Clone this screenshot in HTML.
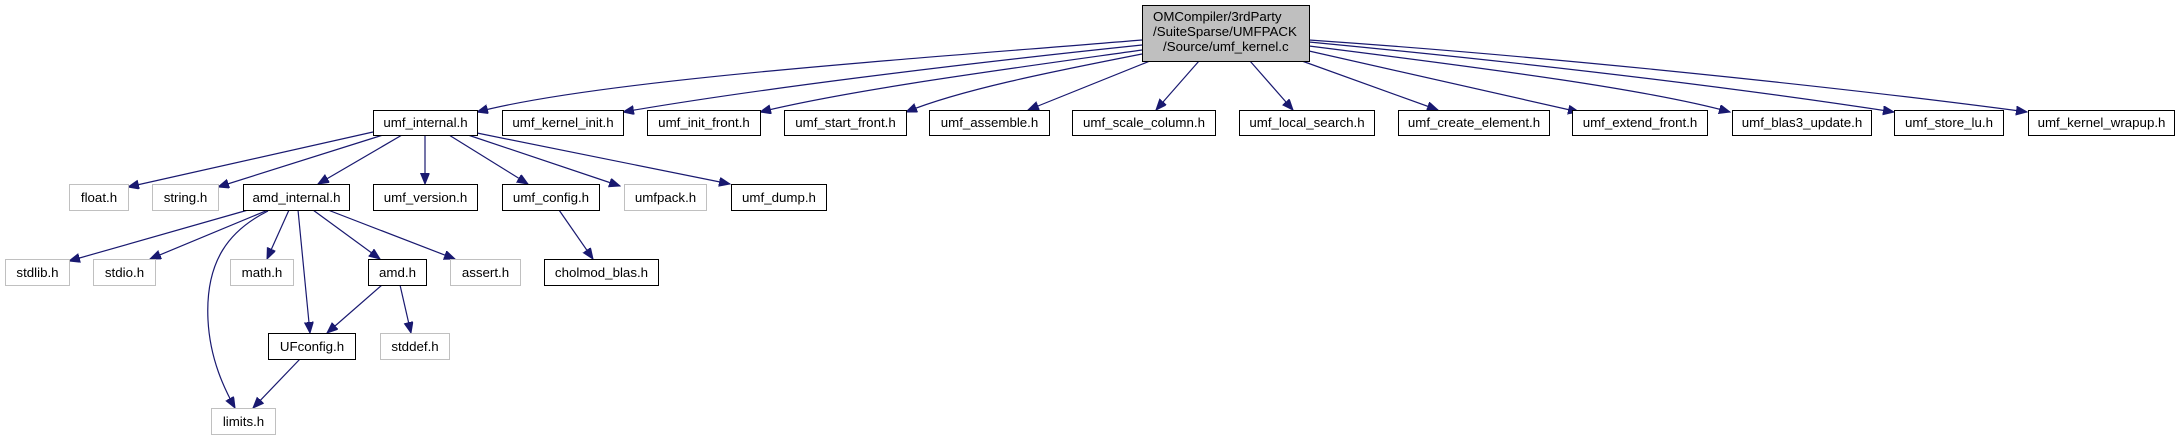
<!DOCTYPE html>
<html><head><meta charset="utf-8"><style>
html,body{margin:0;padding:0;background:#fff;}
svg{display:block;}
text{font-family:"Liberation Sans",sans-serif;font-size:13.3px;fill:#000;}
</style></head><body>
<svg width="2180" height="440" viewBox="0 0 2180 440" xmlns="http://www.w3.org/2000/svg">
<defs>
<marker id="a" markerUnits="userSpaceOnUse" markerWidth="12" markerHeight="10" refX="11" refY="4.5" orient="auto">
<path d="M0,0 L11,4.5 L0,9 z" fill="#191970" stroke="#191970"/>
</marker>
</defs>
<g fill="none" stroke="#191970" stroke-width="1.2" marker-end="url(#a)">
<!-- root edges -->
<path d="M1142,40 C900,60 600,80 477,112"/>
<path d="M1142,45 C950,65 750,90 623,112"/>
<path d="M1142,50 C1000,70 850,90 760,112"/>
<path d="M1142,54 C1050,72 960,90 906,112"/>
<path d="M1150,61 L1028,110"/>
<path d="M1199,61 L1156,110"/>
<path d="M1250,61 L1293,110"/>
<path d="M1302,61 L1438,110"/>
<path d="M1309,51 L1579,112"/>
<path d="M1309,46 C1500,70 1650,90 1730,112"/>
<path d="M1309,42 C1550,65 1750,90 1894,112"/>
<path d="M1309,40 C1600,60 1900,95 2027,112"/>
<!-- umf_internal edges -->
<path d="M373,132 L128,187"/>
<path d="M383,135 L218,187"/>
<path d="M402,135 L318,184"/>
<path d="M425,135 L425,184"/>
<path d="M449,135 L528,184"/>
<path d="M468,135 L620,186"/>
<path d="M477,133 L730,184"/>
<!-- amd_internal edges -->
<path d="M248,210 L69,261"/>
<path d="M268,210 L150,259"/>
<path d="M268,211 C230,230 205,260 208,320 C210,360 225,390 235,408"/>
<path d="M289,210 L267,259"/>
<path d="M298,210 L310,333"/>
<path d="M313,210 L380,259"/>
<path d="M328,210 L455,259"/>
<path d="M382,285 L327,333"/>
<path d="M400,285 L411,333"/>
<path d="M300,359 L253,408"/>
<path d="M559,210 L593,259"/>
</g>
<!-- root -->
<rect x="1142.5" y="5.5" width="167" height="56" fill="#bfbfbf" stroke="#000"/>
<text x="1153" y="21">OMCompiler/3rdParty</text>
<text x="1153" y="36">/SuiteSparse/UMFPACK</text>
<text x="1163" y="51">/Source/umf_kernel.c</text>
<g stroke="#000" fill="#fff">
<rect x="373.5" y="110.5" width="104" height="25"/>
<rect x="502.5" y="110.5" width="121" height="25"/>
<rect x="647.5" y="110.5" width="113" height="25"/>
<rect x="784.5" y="110.5" width="122" height="25"/>
<rect x="929.5" y="110.5" width="120" height="25"/>
<rect x="1072.5" y="110.5" width="143" height="25"/>
<rect x="1239.5" y="110.5" width="135" height="25"/>
<rect x="1398.5" y="110.5" width="151" height="25"/>
<rect x="1572.5" y="110.5" width="135" height="25"/>
<rect x="1732.5" y="110.5" width="139" height="25"/>
<rect x="1894.5" y="110.5" width="109" height="25"/>
<rect x="2028.5" y="110.5" width="146" height="25"/>
<rect x="243.5" y="184.5" width="106" height="26"/>
<rect x="373.5" y="184.5" width="104" height="26"/>
<rect x="502.5" y="184.5" width="97" height="26"/>
<rect x="731.5" y="184.5" width="95" height="26"/>
<rect x="368.5" y="259.5" width="58" height="26"/>
<rect x="544.5" y="259.5" width="114" height="26"/>
<rect x="268.5" y="333.5" width="87" height="26"/>
</g>
<g stroke="#c0c0c0" fill="#fff">
<rect x="69.5" y="184.5" width="59" height="26"/>
<rect x="152.5" y="184.5" width="66" height="26"/>
<rect x="624.5" y="184.5" width="82" height="26"/>
<rect x="5.5" y="259.5" width="64" height="26"/>
<rect x="93.5" y="259.5" width="62" height="26"/>
<rect x="230.5" y="259.5" width="63" height="26"/>
<rect x="450.5" y="259.5" width="70" height="26"/>
<rect x="380.5" y="333.5" width="69" height="26"/>
<rect x="211.5" y="408.5" width="64" height="26"/>
</g>
<g text-anchor="middle">
<text x="425.5" y="127">umf_internal.h</text>
<text x="563" y="127">umf_kernel_init.h</text>
<text x="704" y="127">umf_init_front.h</text>
<text x="845.5" y="127">umf_start_front.h</text>
<text x="989.5" y="127">umf_assemble.h</text>
<text x="1144" y="127">umf_scale_column.h</text>
<text x="1307" y="127">umf_local_search.h</text>
<text x="1474" y="127">umf_create_element.h</text>
<text x="1640" y="127">umf_extend_front.h</text>
<text x="1802" y="127">umf_blas3_update.h</text>
<text x="1949" y="127">umf_store_lu.h</text>
<text x="2101.5" y="127">umf_kernel_wrapup.h</text>
<text x="99" y="202">float.h</text>
<text x="185.5" y="202">string.h</text>
<text x="296.5" y="202">amd_internal.h</text>
<text x="425.5" y="202">umf_version.h</text>
<text x="551" y="202">umf_config.h</text>
<text x="665.5" y="202">umfpack.h</text>
<text x="779" y="202">umf_dump.h</text>
<text x="37.5" y="277">stdlib.h</text>
<text x="124.5" y="277">stdio.h</text>
<text x="262" y="277">math.h</text>
<text x="397.5" y="277">amd.h</text>
<text x="485.5" y="277">assert.h</text>
<text x="601.5" y="277">cholmod_blas.h</text>
<text x="312" y="351">UFconfig.h</text>
<text x="415" y="351">stddef.h</text>
<text x="243.5" y="426">limits.h</text>
</g>
</svg>
</body></html>
